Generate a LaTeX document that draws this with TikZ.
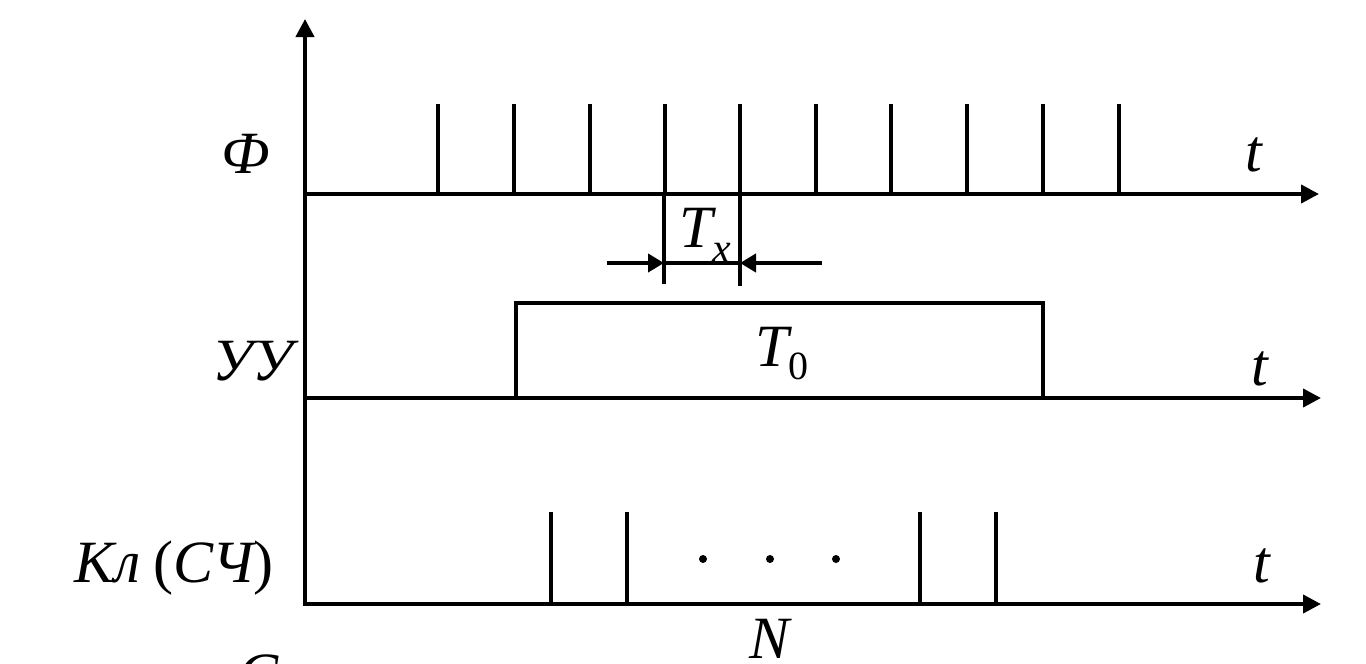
\documentclass[tikz,border=0pt]{standalone}
\usepackage{fontspec}
\setmainfont{Liberation Serif}
\usetikzlibrary{arrows.meta}
\begin{document}
\begin{tikzpicture}[x=1pt,y=-1pt,
  axis/.style={line width=4pt,-{Triangle[length=18pt,width=18pt]}},
  pulse/.style={line width=4pt},
  dimarrow/.style={line width=4pt,-{Triangle[length=16pt,width=18pt]}},
  lbl/.style={font=\fontsize{60}{64}\selectfont\itshape,inner sep=0pt},
  dot/.style={circle,fill=black,inner sep=0pt,minimum size=8pt}]
\useasboundingbox (0,0) rectangle (1366,664);
% axes
\coordinate (O) at (305,606);
\coordinate (Ytop) at (305,19);
\coordinate (A1s) at (303,194);
\coordinate (A1e) at (1319,194);
\coordinate (A2s) at (303,398);
\coordinate (A2e) at (1321,398);
\coordinate (A3s) at (303,604);
\coordinate (A3e) at (1321,604);
\draw[axis] (O) -- (Ytop);
\draw[axis] (A1s) -- (A1e);
\draw[axis] (A2s) -- (A2e);
\draw[axis] (A3s) -- (A3e);
% top pulses
\foreach \i/\x in {1/438,2/514,3/590,4/665,5/740,6/816,7/891,8/967,9/1043,10/1119}{
  \coordinate (p\i) at (\x,104);
  \coordinate (q\i) at (\x,194);
  \draw[pulse] (p\i) -- (q\i);
}
% Tx dimension
\coordinate (tx1) at (664,194);
\coordinate (tx1b) at (664,284);
\coordinate (tx2) at (740,194);
\coordinate (tx2b) at (740,286);
\draw[pulse] (tx1) -- (tx1b);
\draw[pulse] (tx2) -- (tx2b);
\coordinate (la) at (607,263);
\coordinate (lt) at (664,263);
\coordinate (ra) at (822,263);
\coordinate (rt) at (740,263);
\draw[dimarrow] (la) -- (lt);
\draw[dimarrow] (ra) -- (rt);
\draw[pulse] (lt) -- (rt);
\node[lbl,anchor=base west] (Tx) at (679,247) {T\raisebox{-15pt}{\fontsize{42}{42}\selectfont\itshape x}};
% gate pulse
\coordinate (g1) at (516,398);
\coordinate (g2) at (516,303);
\coordinate (g3) at (1043,303);
\coordinate (g4) at (1043,398);
\draw[pulse,line join=miter] (g1) -- (g2) -- (g3) -- (g4);
\node[lbl,anchor=base west] (T0) at (755,366) {T\raisebox{-13pt}{\fontsize{40}{40}\selectfont\upshape 0}};
% bottom pulses
\foreach \i/\x in {1/551,2/627,3/920,4/996}{
  \coordinate (b\i) at (\x,512);
  \coordinate (c\i) at (\x,604);
  \draw[pulse] (b\i) -- (c\i);
}
\node[dot] (d1) at (703,559) {};
\node[dot] (d2) at (770,559) {};
\node[dot] (d3) at (836,559) {};
% labels
\node[lbl,anchor=base] (F) at (246,173) {Ф};
\node[lbl,anchor=base] (t1) at (1254,171) {t};
\node[lbl,anchor=base east] (UU) at (293,380) {УУ};
\node[lbl,anchor=base] (t2) at (1260,385) {t};
\node[lbl,anchor=base east] (Kl) at (274,582) {Кл\kern-2pt\ {\upshape(}СЧ{\upshape)}};
\node[lbl,anchor=base] (t3) at (1262,582) {t};
\node[lbl,anchor=base] (N) at (770,658) {N};
\node[lbl,anchor=base] (C) at (259,694) {С};
\end{tikzpicture}
\end{document}
